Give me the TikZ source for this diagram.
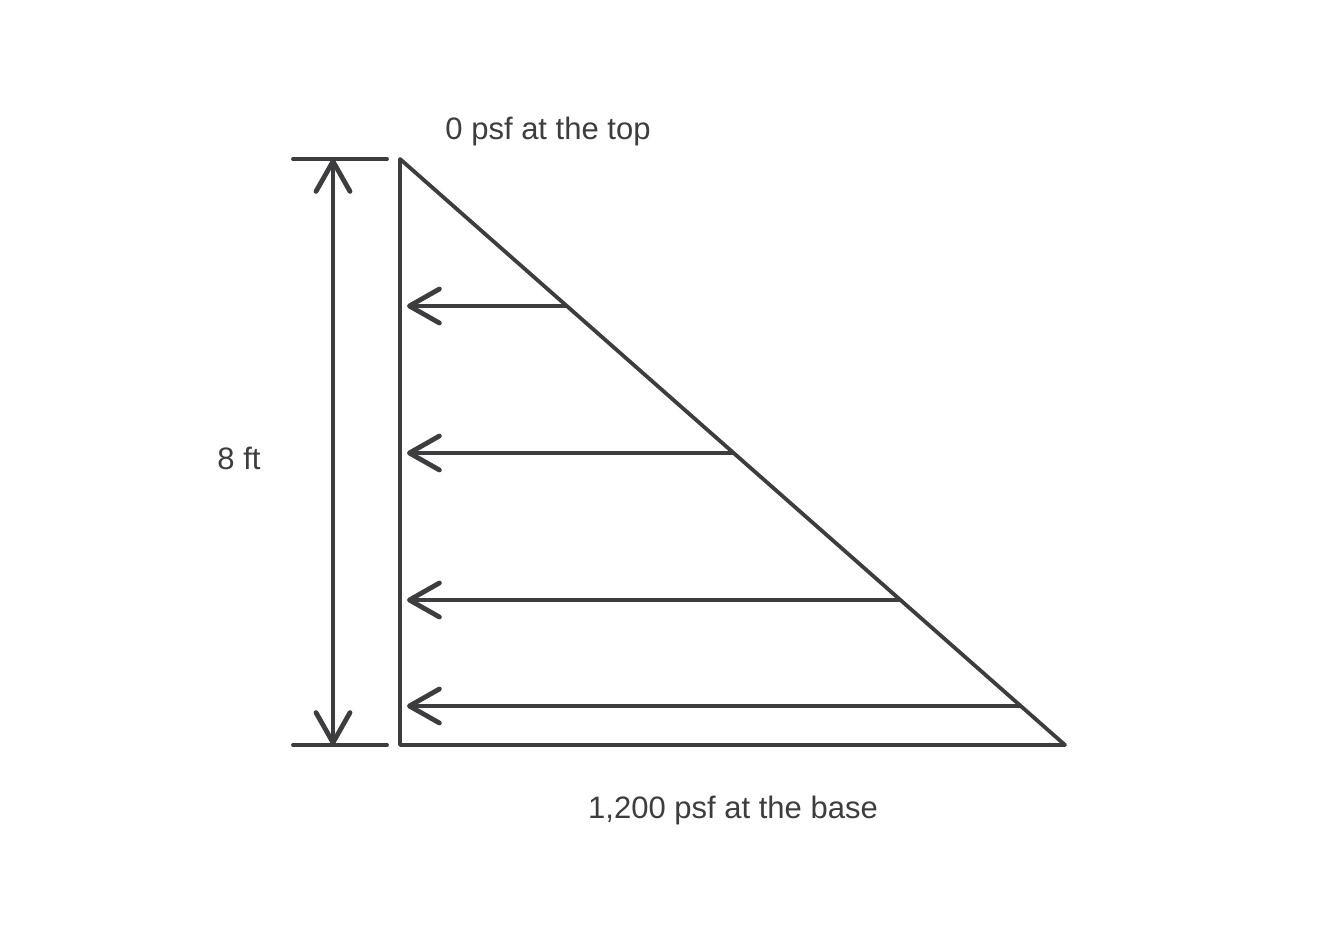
\documentclass[tikz,border=0pt]{standalone}
\usepackage{fontspec}
\setmainfont{Liberation Sans}
\usetikzlibrary{arrows.meta,calc}
\definecolor{ink}{HTML}{3D3D40}
\tikzset{
  barb/.style={Straight Barb[length=30pt, width=34pt, line width=4.8pt, round]},
  edge/.style={draw=ink, line width=3.8pt, line cap=round, line join=round},
  load/.style={draw=ink, line width=3.8pt, line cap=round, -{Straight Barb[length=30pt, width=34pt, line width=4.8pt, round]}},
  dim/.style={draw=ink, line width=3.8pt, line cap=round,
    {Straight Barb[length=30pt, width=34pt, line width=4.8pt, round]}-{Straight Barb[length=30pt, width=34pt, line width=4.8pt, round]}},
  lbl/.style={text=ink, font=\fontsize{31}{36}\selectfont, inner sep=0pt}
}
\begin{document}
\begin{tikzpicture}[x=1pt, y=-1pt]
\useasboundingbox (0,0) rectangle (1333,933);
\fill[white] (0,0) rectangle (1333,933);
% triangle vertices
\coordinate (T) at (400,159);
\coordinate (B) at (400,745);
\coordinate (R) at (1065,745);
\draw[edge] (T) -- (B) -- (R) -- cycle;
% dimension ticks and line
\coordinate (t1) at (293,159);
\coordinate (t2) at (387,159);
\coordinate (b1) at (293,745);
\coordinate (b2) at (387,745);
\draw[edge] (t1) -- (t2);
\draw[edge] (b1) -- (b2);
\coordinate (dt) at (333,159);
\coordinate (db) at (333,745);
\draw[dim] (dt) -- (db);
% load arrows
\foreach \f/\y [count=\i] in {0.2509/306, 0.5017/453, 0.7526/600, 0.9334/706} {
  \coordinate (s\i) at ($(T)!\f!(R)$);
  \coordinate (e\i) at (407,\y);
  \draw[load] (s\i) -- (e\i);
}
% labels
\node[lbl] (top) at (548,131) {0 psf at the top};
\node[lbl] (h) at (239,458) {8 ft};
\node[lbl] (base) at (733,810) {1,200 psf at the base};
\end{tikzpicture}
\end{document}
